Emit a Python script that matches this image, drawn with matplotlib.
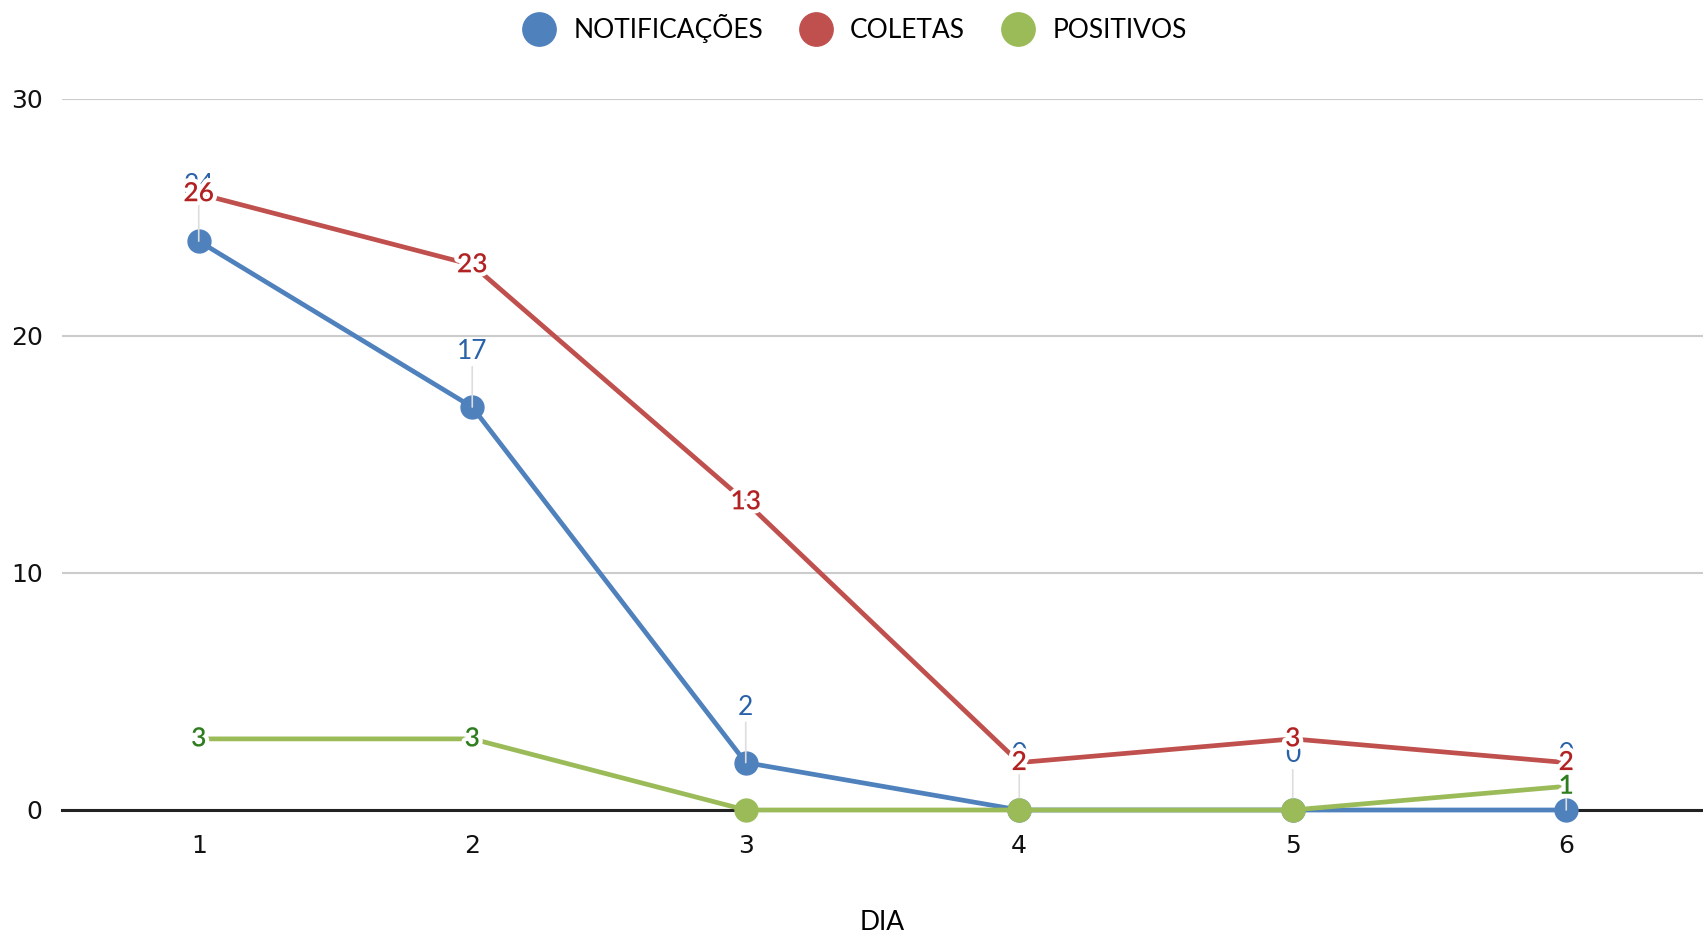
import numpy as np
import matplotlib.pyplot as plt
import matplotlib.patheffects as pe
from matplotlib.lines import Line2D

dias = [1, 2, 3, 4, 5, 6]
notificacoes = [24, 17, 2, 0, 0, 0]
coletas = [26, 23, 13, 2, 3, 2]
positivos = [3, 3, 0, 0, 0, 1]

series_names = ["NOTIFICAÇÕES", "COLETAS", "POSITIVOS"]
line_colors = ["#4F81BD", "#C0504D", "#9BBB59"]
text_colors = ["#2A62A8", "#B22222", "#2E7D1E"]

fig = plt.figure(figsize=(17.03, 9.35), dpi=100)
ax = fig.add_axes([0.0364, 0.1337, 0.9636, 0.7605])

halo = [pe.withStroke(linewidth=6, foreground="white")]

# zero baseline
ax.axhline(0, color="#222222", lw=2.2, zorder=2.5, clip_on=False)

# blue: label floats above the point with a thin leader line
ax.plot(dias, notificacoes, color=line_colors[0], lw=3.4, marker="o", ms=16.5,
        zorder=3, clip_on=False)
for x, y in zip(dias, notificacoes):
    ax.annotate(str(y), xy=(x, y), xytext=(0, 40), textcoords="offset points",
                ha="center", va="center", fontsize=19, family="Lato",
                color=text_colors[0], zorder=4,
                arrowprops=dict(arrowstyle="-", color="#dddddd", lw=1.2,
                                shrinkA=0, shrinkB=0))

# red and green: label sits on the point with a white halo
for vals, lc, tc, z in [(coletas, line_colors[1], text_colors[1], 5),
                        (positivos, line_colors[2], text_colors[2], 7)]:
    ax.plot(dias, vals, color=lc, lw=3.4, zorder=z, clip_on=False)
    zero = [i for i, v in enumerate(vals) if v == 0]
    ax.plot(dias, vals, ls="none", marker="o", ms=16.5, color=lc,
            markevery=zero, zorder=z, clip_on=False)
    for x, y in zip(dias, vals):
        if y == 0:
            continue
        ax.text(x, y, str(y), ha="center", va="center", fontsize=19,
                family="Lato", fontweight="semibold", color=tc, zorder=z + 1,
                path_effects=halo)

ax.set_xlim(0.5, 6.5)
ax.set_ylim(0, 30)
ax.set_yticks([0, 10, 20, 30])
ax.set_xticks(dias)
ax.grid(axis="y", color="#cccccc", lw=1.5)
ax.set_axisbelow(True)
for s in ["top", "right", "left", "bottom"]:
    ax.spines[s].set_visible(False)
ax.tick_params(length=0, labelsize=18, colors="#111111")
ax.tick_params(axis="x", pad=17)
ax.tick_params(axis="y", pad=14)

ax.set_xlabel("DIA", family="Lato", fontsize=19, labelpad=38)

handles = [Line2D([], [], ls="none", marker="o", ms=24, color=c) for c in line_colors]
fig.legend(handles, series_names, loc="center", bbox_to_anchor=(0.502, 0.969),
           ncol=3, frameon=False, prop={"family": "Lato", "size": 19},
           handletextpad=0.7, columnspacing=1.4, handlelength=1.2)

fig.savefig("out.png", dpi=100)
